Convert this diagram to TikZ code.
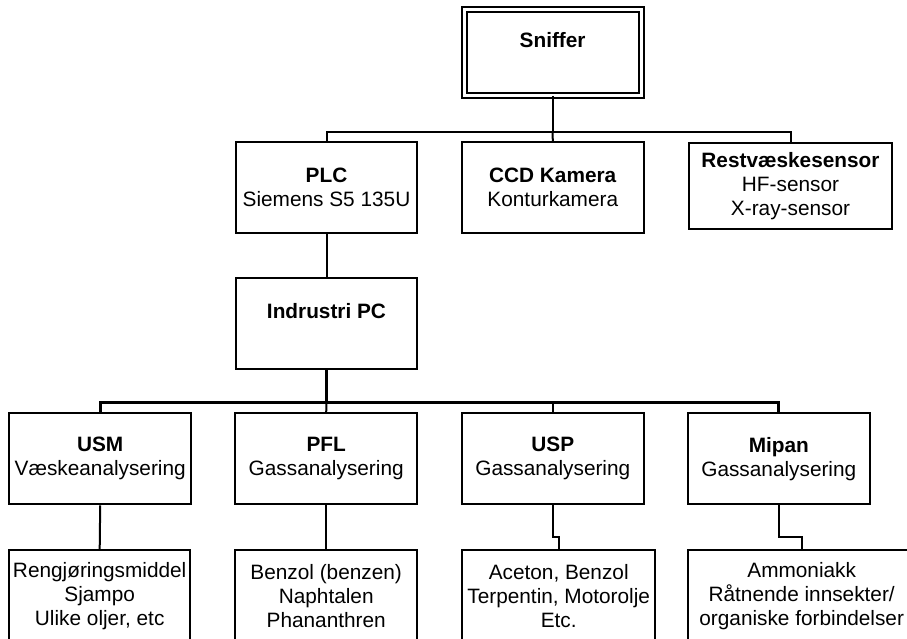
\documentclass[tikz,border=0pt]{standalone}
\usepackage{fontspec}
\setmainfont{Liberation Sans}
\begin{document}
\begin{tikzpicture}[x=1pt,y=-1pt,
  box/.style={draw, line width=2pt, minimum width=181.6pt, minimum height=91pt,
    inner sep=0pt, align=center, font=\fontsize{20.8}{24}\selectfont},
  link/.style={line width=2pt},
  trunk/.style={line width=2.8pt}]
\clip (0,0) rectangle (907,638);

% top level
\node[box, double, line width=1.8pt, double distance=3.2pt, minimum width=177pt, minimum height=86pt]
  (sniffer) at (552.6,52.2) {\textbf{Sniffer}\\~};

% second level
\node[box] (plc) at (326.5,187.8) {\textbf{PLC}\\Siemens S5 135U};
\node[box] (ccd) at (552.8,187.8) {\textbf{CCD Kamera}\\Konturkamera};
\node[box, minimum width=202.4pt, minimum height=86.3pt] (rest) at (790.5,185.9)
  {\textbf{Restvæskesensor}\\HF-sensor\\X-ray-sensor};

% controller
\node[box] (pc) at (326.5,323.3) {\textbf{Indrustri PC}\\~};

% analysers
\node[box] (usm) at (100.2,458.8) {\textbf{USM}\\Væskeanalysering};
\node[box] (pfl) at (326.2,458.8) {\textbf{PFL}\\Gassanalysering};
\node[box] (usp) at (552.8,458.8) {\textbf{USP}\\Gassanalysering};
\node[box] (mipan) at (778.8,458.8) {\textbf{Mipan}\\Gassanalysering};

% substances
\node[box, minimum width=180.7pt, minimum height=92pt] (usmc) at (99.7,596)
  {Rengjøringsmiddel\\Sjampo\\Ulike oljer, etc};
\node[box, minimum height=92pt] (pflc) at (326.2,596)
  {Benzol (benzen)\\Naphtalen\\Phananthren};
\node[box, minimum width=192.7pt, minimum height=92pt] (uspc) at (558.7,596)
  {Aceton, Benzol\\Terpentin, Motorolje\\Etc.};
\node[box, minimum width=226.8pt, minimum height=92pt] (mipanc) at (801.7,596)
  {Ammoniakk\\Råtnende innsekter/\\organiske forbindelser};

% bus points and jogs
\coordinate (bus1) at (552.6,131.7);
\coordinate (bus2) at (326.5,402.7);
\coordinate (uj) at (552.8,536.7);
\coordinate (mj) at (778.8,536.7);

% connectors
\draw[link] (sniffer.south) -- (bus1);
\draw[link] (bus1) -| (plc.north);
\draw[link] (bus1) -- (ccd.north);
\draw[link] (bus1) -| (rest.north);
\draw[link] (plc.south) -- (pc.north);
\draw[trunk] (pc.south) -- (bus2);
\draw[trunk] (bus2) -| (usm.north);
\draw[trunk] (bus2) -| (mipan.north);
\draw[link] (bus2) -- (pfl.north);
\draw[link] (usp.north |- bus2) -- (usp.north);
\draw[link] (usm.south) -- (usmc.north);
\draw[link] (pfl.south) -- (pflc.north);
\draw[link] (usp.south) -- (uj) -| (uspc.north);
\draw[link] (mipan.south) -- (mj) -| (mipanc.north);
\end{tikzpicture}
\end{document}
